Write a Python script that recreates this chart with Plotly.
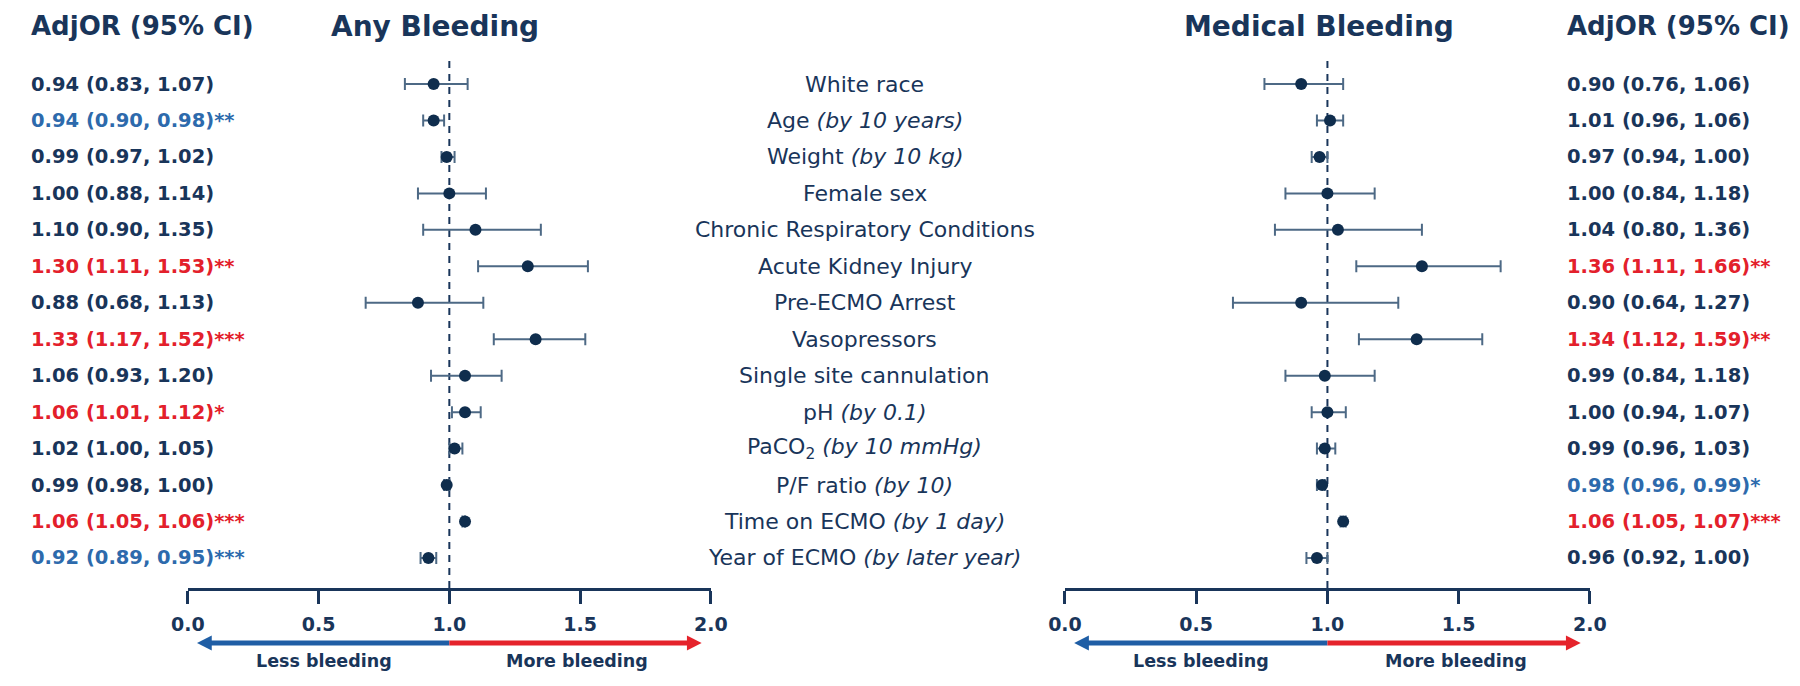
import plotly.graph_objects as go

# ---------------- data ----------------
row_labels = [
    "White race",
    "Age <i>(by 10 years)</i>",
    "Weight <i>(by 10 kg)</i>",
    "Female sex",
    "Chronic Respiratory Conditions",
    "Acute Kidney Injury",
    "Pre-ECMO Arrest",
    "Vasopressors",
    "Single site cannulation",
    "pH <i>(by 0.1)</i>",
    "PaCO<sub>2</sub> <i>(by 10 mmHg)</i>",
    "P/F ratio <i>(by 10)</i>",
    "Time on ECMO <i>(by 1 day)</i>",
    "Year of ECMO <i>(by later year)</i>",
]

any_or = [0.94, 0.94, 0.99, 1.00, 1.10, 1.30, 0.88, 1.33, 1.06, 1.06, 1.02, 0.99, 1.06, 0.92]
any_lo = [0.83, 0.90, 0.97, 0.88, 0.90, 1.11, 0.68, 1.17, 0.93, 1.01, 1.00, 0.98, 1.05, 0.89]
any_hi = [1.07, 0.98, 1.02, 1.14, 1.35, 1.53, 1.13, 1.52, 1.20, 1.12, 1.05, 1.00, 1.06, 0.95]
any_stars = ["", "**", "", "", "", "**", "", "***", "", "*", "", "", "***", "***"]

med_or = [0.90, 1.01, 0.97, 1.00, 1.04, 1.36, 0.90, 1.34, 0.99, 1.00, 0.99, 0.98, 1.06, 0.96]
med_lo = [0.76, 0.96, 0.94, 0.84, 0.80, 1.11, 0.64, 1.12, 0.84, 0.94, 0.96, 0.96, 1.05, 0.92]
med_hi = [1.06, 1.06, 1.00, 1.18, 1.36, 1.66, 1.27, 1.59, 1.18, 1.07, 1.03, 0.99, 1.07, 1.00]
med_stars = ["", "", "", "", "", "**", "", "**", "", "", "", "*", "***", ""]

tick_vals = [0.0, 0.5, 1.0, 1.5, 2.0]
panel_titles = ["Any Bleeding", "Medical Bleeding"]
col_header = "AdjOR (95% CI)"
dir_labels = ["Less bleeding", "More bleeding"]

# ---------------- style ----------------
W, H = 1800, 686
PAGE_OFF = 8  # default body margin of the written html page
NAVY = "#19355a"
BLUE_T = "#2d6aac"
RED_T = "#e3202b"
BAR_C = "#4d6985"
MARK_C = "#0f2d4d"
ARROW_BLUE = "#1f5ea5"
ARROW_RED = "#e5232b"
FONT = "DejaVu Sans"


def pxx(p):
    return (p - PAGE_OFF) / W


def pxy(p):
    return 1 - (p - PAGE_OFF) / H


ROW0, ROWSTEP = 84.0, 36.46
AXIS_Y = 588.0
y_top_val = (PAGE_OFF - ROW0) / ROWSTEP
y_bot_val = (AXIS_Y - ROW0) / ROWSTEP

rows = list(range(len(row_labels)))

fig = go.Figure()

panels = [
    dict(or_=any_or, lo=any_lo, hi=any_hi, xa="x", dom=[pxx(174), pxx(707)]),
    dict(or_=med_or, lo=med_lo, hi=med_hi, xa="x2", dom=[pxx(1068), pxx(1603)]),
]

for p in panels:
    fig.add_trace(go.Scatter(
        x=p["or_"], y=rows, xaxis=p["xa"], yaxis="y",
        mode="markers",
        marker=dict(size=12, color=MARK_C),
        error_x=dict(type="data", symmetric=False,
                     array=[h - o for h, o in zip(p["hi"], p["or_"])],
                     arrayminus=[o - l for o, l in zip(p["or_"], p["lo"])],
                     color=BAR_C, thickness=2, width=6),
        cliponaxis=False, showlegend=False, hoverinfo="skip",
    ))

axis_common = dict(
    range=[0, 2], tickvals=tick_vals, tickformat=".1f",
    showgrid=False, zeroline=False, showline=True, linewidth=3, linecolor=NAVY,
    ticks="outside", ticklen=13, tickwidth=3, tickcolor=NAVY,
    tickfont=dict(family=FONT, size=19, color=NAVY, weight="bold"),
    ticklabelstandoff=4, fixedrange=True,
)

fig.update_layout(
    width=W, height=H,
    margin=dict(l=0, r=0, t=0, b=0),
    paper_bgcolor="white", plot_bgcolor="white",
    xaxis=dict(domain=panels[0]["dom"], anchor="y", **axis_common),
    xaxis2=dict(domain=panels[1]["dom"], anchor="y", **axis_common),
    yaxis=dict(domain=[pxy(AXIS_Y), 1], range=[y_bot_val, y_top_val],
               visible=False, fixedrange=True),
)

shapes = []
annotations = []

# dashed reference lines at OR = 1 and direction arrows
ARROW_Y = pxy(643)
HEAD_LEN_PX, HEAD_HALF_PX = 15, 7.5
for p in panels:
    xa = p["xa"]
    unit_px = (p["dom"][1] - p["dom"][0]) * W / 2.0
    shapes.append(dict(type="line", xref=xa, yref="paper", x0=1, x1=1,
                       y0=pxy(AXIS_Y), y1=pxy(55),
                       line=dict(color=NAVY, width=2, dash="7px,6px"), layer="below"))
    hl = HEAD_LEN_PX / unit_px
    hh = HEAD_HALF_PX / H
    tip_l, tip_r = 0.035, 1.965
    shapes.append(dict(type="line", xref=xa, yref="paper", x0=1, x1=tip_l + hl * 0.6,
                       y0=ARROW_Y, y1=ARROW_Y, line=dict(color=ARROW_BLUE, width=5)))
    shapes.append(dict(type="line", xref=xa, yref="paper", x0=1, x1=tip_r - hl * 0.6,
                       y0=ARROW_Y, y1=ARROW_Y, line=dict(color=ARROW_RED, width=5)))
    shapes.append(dict(type="path", xref=xa, yref="paper",
                       path=f"M {tip_l},{ARROW_Y} L {tip_l + hl},{ARROW_Y + hh} L {tip_l + hl},{ARROW_Y - hh} Z",
                       fillcolor=ARROW_BLUE, line=dict(width=0)))
    shapes.append(dict(type="path", xref=xa, yref="paper",
                       path=f"M {tip_r},{ARROW_Y} L {tip_r - hl},{ARROW_Y + hh} L {tip_r - hl},{ARROW_Y - hh} Z",
                       fillcolor=ARROW_RED, line=dict(width=0)))
    for lab, xv in zip(dir_labels, [0.52, 1.49]):
        annotations.append(dict(text=lab, xref=xa, yref="paper", x=xv, y=pxy(661),
                                showarrow=False, xanchor="center", yanchor="middle",
                                font=dict(family=FONT, size=17.5, color=NAVY, weight="bold")))

# panel titles
for t, cx in zip(panel_titles, [426, 1327]):
    annotations.append(dict(text=t, xref="paper", yref="paper", x=pxx(cx), y=pxy(26),
                            showarrow=False, xanchor="center", yanchor="middle",
                            font=dict(family=FONT, size=28, color=NAVY, weight="bold")))

# column headers
for hx in [12, 1578]:
    annotations.append(dict(text=col_header, xref="paper", yref="paper", x=pxx(hx), y=pxy(26),
                            showarrow=False, xanchor="left", yanchor="middle",
                            font=dict(family=FONT, size=26, color=NAVY, weight="bold")))


def val_color(lo, hi):
    if lo > 1:
        return RED_T
    if hi < 1:
        return BLUE_T
    return NAVY


for (orv, lo, hi, st), hx in [((any_or, any_lo, any_hi, any_stars), 12),
                             ((med_or, med_lo, med_hi, med_stars), 1578)]:
    for i in rows:
        txt = f"{orv[i]:.2f} ({lo[i]:.2f}, {hi[i]:.2f}){st[i]}"
        annotations.append(dict(text=txt, xref="paper", yref="y", x=pxx(hx), y=i,
                                showarrow=False, xanchor="left", yanchor="middle",
                                font=dict(family=FONT, size=19.5, color=val_color(lo[i], hi[i]),
                                          weight="bold")))

# middle row labels
for i in rows:
    annotations.append(dict(text=row_labels[i], xref="paper", yref="y", x=pxx(864), y=i,
                            showarrow=False, xanchor="center", yanchor="middle",
                            font=dict(family=FONT, size=22, color=NAVY)))

fig.update_layout(shapes=shapes, annotations=annotations)
fig.write_html("out.html")
